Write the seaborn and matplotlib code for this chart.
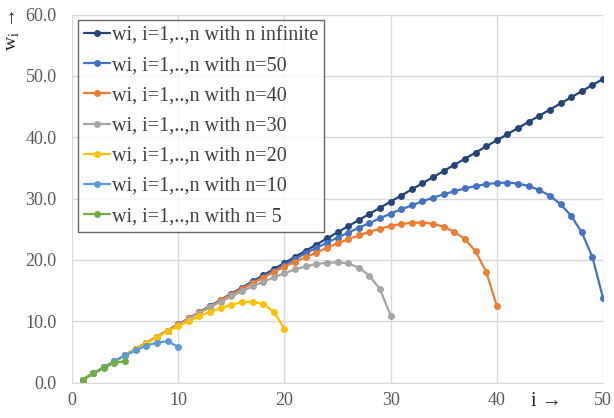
import numpy as np
import pandas as pd
import matplotlib
matplotlib.use("Agg")
import matplotlib.pyplot as plt
import seaborn as sns

# valori
w_inf = [0.5, 1.5, 2.5, 3.5, 4.5, 5.5, 6.5, 7.5, 8.5, 9.5,
         10.5, 11.5, 12.5, 13.5, 14.5, 15.5, 16.5, 17.5, 18.5, 19.5,
         20.5, 21.5, 22.5, 23.5, 24.5, 25.5, 26.5, 27.5, 28.5, 29.5,
         30.5, 31.5, 32.5, 33.5, 34.5, 35.5, 36.5, 37.5, 38.5, 39.5,
         40.5, 41.5, 42.5, 43.5, 44.5, 45.5, 46.5, 47.5, 48.5, 49.5]
w_50 = [0.5, 1.5, 2.5, 3.5, 4.5, 5.5, 6.5, 7.5, 8.5, 9.5,
        10.5, 11.5, 12.45, 13.4, 14.4, 15.4, 16.35, 17.3, 18.25, 19.2,
        20.15, 21.1, 21.95, 22.8, 23.65, 24.45, 25.25, 26.0, 26.8, 27.55,
        28.25, 28.9, 29.55, 30.15, 30.7, 31.2, 31.65, 32.05, 32.35, 32.55,
        32.6, 32.45, 32.05, 31.4, 30.45, 29.1, 27.2, 24.5, 20.5, 13.8]
w_40 = [0.5, 1.5, 2.5, 3.5, 4.5, 5.5, 6.5, 7.5, 8.5, 9.5,
        10.5, 11.45, 12.4, 13.4, 14.35, 15.3, 16.2, 17.1, 18.0, 18.9,
        19.7, 20.45, 21.2, 22.0, 22.7, 23.4, 24.0, 24.6, 25.1, 25.55,
        25.85, 26.05, 26.1, 25.9, 25.4, 24.6, 23.4, 21.4, 18.1, 12.5]
w_30 = [0.5, 1.5, 2.5, 3.5, 4.5, 5.5, 6.5, 7.5, 8.45, 9.45,
        10.4, 11.35, 12.3, 13.2, 14.05, 14.9, 15.7, 16.45, 17.15, 17.85,
        18.45, 18.95, 19.35, 19.55, 19.6, 19.45, 18.75, 17.45, 15.25, 10.95]
w_20 = [0.5, 1.5, 2.5, 3.5, 4.5, 5.5, 6.45, 7.4, 8.35, 9.2,
        10.05, 10.85, 11.55, 12.15, 12.7, 13.1, 13.2, 12.8, 11.6, 8.8]
w_10 = [0.5, 1.5, 2.5, 3.5, 4.45, 5.25, 6.05, 6.55, 6.75, 5.85]
w_5 = [0.5, 1.5, 2.45, 3.25, 3.5]

etichette = ["wi, i=1,..,n with n infinite", "wi, i=1,..,n with n=50",
             "wi, i=1,..,n with n=40", "wi, i=1,..,n with n=30",
             "wi, i=1,..,n with n=20", "wi, i=1,..,n with n=10",
             "wi, i=1,..,n with n= 5"]
serie = [w_inf, w_50, w_40, w_30, w_20, w_10, w_5]
colori = ["#264478", "#4472C4", "#ED7D31", "#A5A5A5", "#FFC000", "#5B9BD5", "#70AD47"]

sns.set_style("white")
plt.rcParams['font.family'] = ['Liberation Serif', 'DejaVu Serif']
plt.rcParams['mathtext.fontset'] = 'custom'
plt.rcParams['mathtext.rm'] = 'Liberation Serif'

fig = plt.figure(figsize=(6.14, 4.18), dpi=100)
ax = fig.add_axes([72 / 614, 1 - 382.7 / 418, (603 - 72) / 614, (382.7 - 14.5) / 418])

for valori, nome, col in zip(serie, etichette, colori):
    df = pd.DataFrame({"i": np.arange(1, len(valori) + 1), "w": valori})
    sns.lineplot(data=df, x="i", y="w", ax=ax, color=col, marker="o",
                 markersize=5, markeredgewidth=0, linewidth=1.6, label=nome)

ax.set_xlim(0, 50)
ax.set_ylim(0, 60)
ax.set_xticks(range(0, 51, 10))
ax.set_yticks(range(0, 61, 10))
ax.set_yticklabels([f"{v:.1f}" for v in range(0, 61, 10)])
ax.grid(True, color="#D9D9D9", linewidth=1)
ax.set_axisbelow(True)
for s in ["top", "right", "left"]:
    ax.spines[s].set_visible(False)
ax.spines["bottom"].set_color("#D9D9D9")
ax.tick_params(axis="both", length=0, labelsize=13, labelcolor="#595959")
ax.tick_params(axis="y", pad=11)
ax.tick_params(axis="x", pad=7)

ax.set_xlabel("")
ax.set_ylabel("")
fig.text(546 / 614, 1 - 402 / 418, "i →", fontsize=14.5, ha="center", va="center")
fig.text(14 / 614, 1 - 30 / 418, r"w$_\mathregular{i}$ →", fontsize=14,
         rotation=90, ha="center", va="center")

leg = ax.legend(loc="upper left", bbox_to_anchor=(0.011, 0.985), fontsize=14.5,
                frameon=True, fancybox=False, handlelength=1.3, handletextpad=0.1,
                labelspacing=0.55, borderpad=0.3, borderaxespad=0)
leg.get_frame().set_edgecolor("#404040")
leg.get_frame().set_linewidth(1.0)
for t in leg.get_texts():
    t.set_color("#404040")

fig.savefig("out.png", dpi=100)
